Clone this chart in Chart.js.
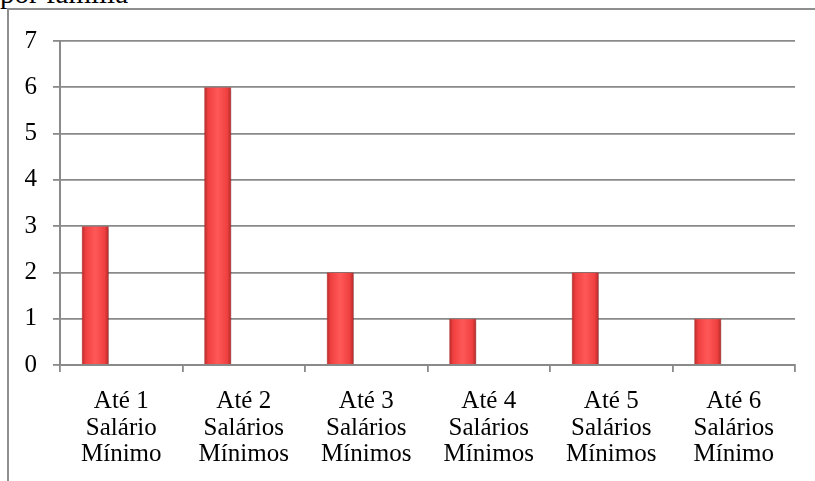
<!DOCTYPE html>
<html>
<head>
<meta charset="utf-8">
<script src="https://cdn.jsdelivr.net/npm/chart.js@4"></script>
<style>
  html, body { margin: 0; padding: 0; background: #fff; overflow: hidden; }
  #page { position: relative; width: 815px; height: 481px; }
  #titulo {
    position: absolute; left: 0; top: -21px;
    font-family: 'Liberation Serif', 'Times New Roman', serif;
    font-size: 29px; color: #000; line-height: 29px;
  }
  #quadro {
    position: absolute; left: 7px; top: 8px; width: 808px; height: 480px;
    border-left: 2px solid #8e8e8e; border-top: 2px solid #8e8e8e;
    box-sizing: border-box; background: #fff;
  }
  #wrap { position: absolute; left: 0; top: 0; width: 806px; height: 478px; }
</style>
</head>
<body>
<div id="page">
  <div id="titulo">por família</div>
  <div id="quadro">
    <div id="wrap"><canvas id="rendaChart"></canvas></div>
  </div>
</div>
<script>
// Faixas de renda e número de famílias em cada uma
const faixas = [
  ['Até 1', 'Salário', 'Mínimo'],
  ['Até 2', 'Salários', 'Mínimos'],
  ['Até 3', 'Salários', 'Mínimos'],
  ['Até 4', 'Salários', 'Mínimos'],
  ['Até 5', 'Salários', 'Mínimos'],
  ['Até 6', 'Salários', 'Mínimo']
];
const familias = [3, 6, 2, 1, 2, 1];
const vazio = [null, null, null, null, null, null];
const marcasY = [0, 1, 2, 3, 4, 5, 6, 7];

const fonte = "'Liberation Serif', 'Times New Roman', serif";

// Cilindro vermelho: escuro nas bordas, claro no meio
const gradienteBarras = {
  id: 'gradienteBarras',
  beforeDatasetsDraw(chart) {
    const c = chart.ctx;
    const meta = chart.getDatasetMeta(0);
    meta.data.forEach(bar => {
      const x0 = bar.x - bar.width / 2, x1 = bar.x + bar.width / 2;
      const g = c.createLinearGradient(x0, 0, x1, 0);
      g.addColorStop(0, '#b52a2a');
      g.addColorStop(0.15, '#f04040');
      g.addColorStop(0.5, '#ff5858');
      g.addColorStop(0.85, '#f04040');
      g.addColorStop(1, '#b02828');
      bar.options = Object.assign({}, bar.options, { backgroundColor: g });
    });
  },
  beforeDatasetDraw(chart, args) {
    if (args.index !== 0) return;
    const c = chart.ctx;
    c.save();
    c.shadowColor = 'rgba(0,0,0,0.35)';
    c.shadowBlur = 3;
    c.shadowOffsetX = 2;
    c.shadowOffsetY = 1;
  },
  afterDatasetDraw(chart, args) {
    if (args.index === 0) chart.ctx.restore();
  }
};

const ctx = document.getElementById('rendaChart').getContext('2d');
new Chart(ctx, {
  type: 'bar',
  data: {
    labels: faixas,
    datasets: [
      {
        label: 'Famílias',
        data: familias,
        backgroundColor: () => '#f04040',
        borderColor: '#a82626',
        borderWidth: 0.5,
        categoryPercentage: 0.85,
        barPercentage: 0.52
      },
      {
        label: '',
        data: vazio,
        categoryPercentage: 0.85,
        barPercentage: 0.52
      }
    ]
  },
  options: {
    responsive: true,
    maintainAspectRatio: false,
    animation: false,
    layout: { padding: { top: 28, right: 20, left: 0, bottom: 0 } },
    plugins: {
      legend: { display: false },
      tooltip: { enabled: false }
    },
    scales: {
      x: {
        grid: {
          offset: true,
          drawOnChartArea: false,
          drawTicks: true,
          tickLength: 7,
          color: '#8a8a8a',
          lineWidth: 1.8
        },
        border: { display: true, color: '#8a8a8a', width: 2 },
        ticks: {
          color: '#000',
          padding: 16,
          maxRotation: 0,
          autoSkip: false,
          font: { family: fonte, size: 25, lineHeight: 1.07 }
        },
        afterFit(scale) { scale.height = 123; }
      },
      y: {
        min: 0,
        max: 7,
        afterBuildTicks(scale) { scale.ticks = marcasY.map(v => ({ value: v })); },
        grid: {
          color: '#8a8a8a',
          lineWidth: 1.8,
          tickLength: 7
        },
        border: { display: true, color: '#8a8a8a', width: 2 },
        ticks: {
          color: '#000',
          padding: 16,
          font: { family: fonte, size: 25 }
        },
        afterFit(scale) { scale.width = 51; }
      }
    }
  },
  plugins: [gradienteBarras]
});
</script>
</body>
</html>
